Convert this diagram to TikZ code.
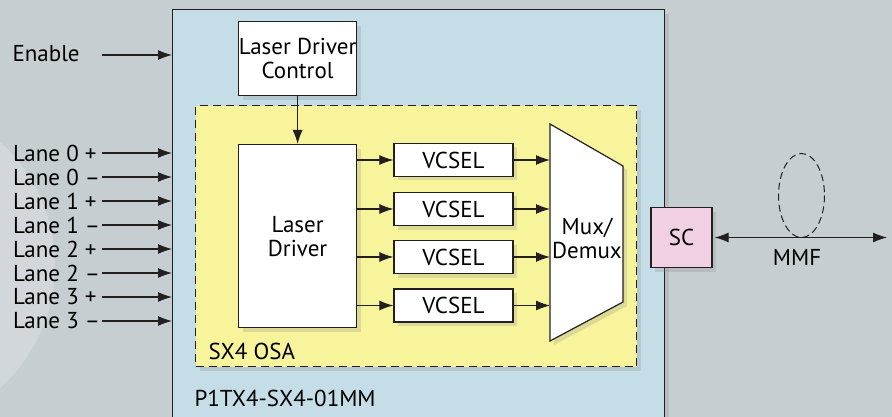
\documentclass[tikz,border=0pt]{standalone}
\usepackage{fontspec}
\setmainfont{PT Sans}
\usepackage{xcolor}
\usetikzlibrary{arrows.meta,positioning,calc,shadows}

\definecolor{bggray}{RGB}{198,206,209}
\definecolor{bglight}{RGB}{209,215,218}
\definecolor{modblue}{RGB}{196,221,231}
\definecolor{osayellow}{RGB}{248,244,156}
\definecolor{scpink}{RGB}{241,208,228}
\definecolor{linegray}{RGB}{35,31,32}

\begin{document}
\begin{tikzpicture}[x=1pt,y=-1pt,>={Latex[length=14pt,width=10pt]},
  font=\fontsize{23}{24}\selectfont,
  shade/.style={drop shadow={opacity=0.22,shadow xshift=4pt,shadow yshift=-4pt}},
  box/.style={draw=linegray,line width=1.2pt,fill=white,align=center,inner sep=0pt,shade},
  sig/.style={->,line width=1.1pt,draw=linegray}]
  \useasboundingbox (0,0) rectangle (892,417);
  \clip (0,0) rectangle (892,417);
  \fill[bggray] (0,0) rectangle (892,417);
  \fill[bglight] (-110,265) circle[radius=165];

  % module and optical sub-assembly
  \node[draw=linegray,line width=1.3pt,fill=modblue,inner sep=0pt,anchor=north west,
        minimum width=492pt,minimum height=430pt,shade] (module) at (172,9) {};
  \node[anchor=west] (modname) at (191,398) {P1TX4-SX4-01MM};
  \node[draw=linegray,dash pattern=on 8pt off 5pt,line width=1.2pt,fill=osayellow,inner sep=0pt,
        anchor=north west,minimum width=441pt,minimum height=261pt,shade] (osa) at (195,105) {};
  \node[anchor=west] (osaname) at (205,351) {SX4 OSA};

  % driver blocks
  \node[box,anchor=north west,minimum width=118pt,minimum height=74pt] (ldc) at (238,21) {Laser Driver\\Control};
  \node[box,anchor=north west,minimum width=118pt,minimum height=183pt] (ld) at (238,144) {Laser\\Driver};
  \draw[sig] (ldc.south) -- (ld.north);

  % mux/demux
  \draw[linegray,line width=1.2pt,fill=white,shade] (550,124) -- (623,166) -- (623,302) -- (550,341) -- cycle;
  \coordinate (muxin) at (550,232);
  \node[align=center] (mux) at (587,238) {Mux/\\Demux};

  \foreach \y [count=\i] in {160,209,257,305.5} {
    \node[box,minimum width=119pt,minimum height=33pt] (vcsel\i) at (453.5,\y) {VCSEL};
    \draw[sig] (vcsel\i.west -| ld.east) -- (vcsel\i.west);
    \draw[sig] (vcsel\i.east) -- (vcsel\i.east -| muxin);
  }

  % connector and fibre
  \node[box,fill=scpink,minimum width=61pt,minimum height=60pt] (sc) at (681.5,237.5) {SC};
  \coordinate (fiberend) at (887,237.5);
  \draw[sig,<->,shorten <=2pt] (sc.east) -- (fiberend);
  \draw[linegray,line width=1pt,dash pattern=on 7pt off 4pt] (801.5,195.5) ellipse[x radius=23,y radius=42];
  \node (mmf) at (797,257) {MMF};

  % inputs
  \node[anchor=west] (enable) at (9,54) {Enable};
  \coordinate (enin) at (102,55);
  \draw[sig] (enin) -- (enin -| module.west);
  \foreach \n/\s [count=\i] in {0/+,0/--,1/+,1/--,2/+,2/--,3/+,3/--} {
    \pgfmathsetmacro\ly{129+24*\i}
    \node[anchor=west] (lane\i) at (9.5,\ly) {Lane \n\ \s};
    \coordinate (lanein\i) at (102,\ly);
    \draw[sig] (lanein\i) -- (lanein\i -| module.west);
  }
\end{tikzpicture}
\end{document}
